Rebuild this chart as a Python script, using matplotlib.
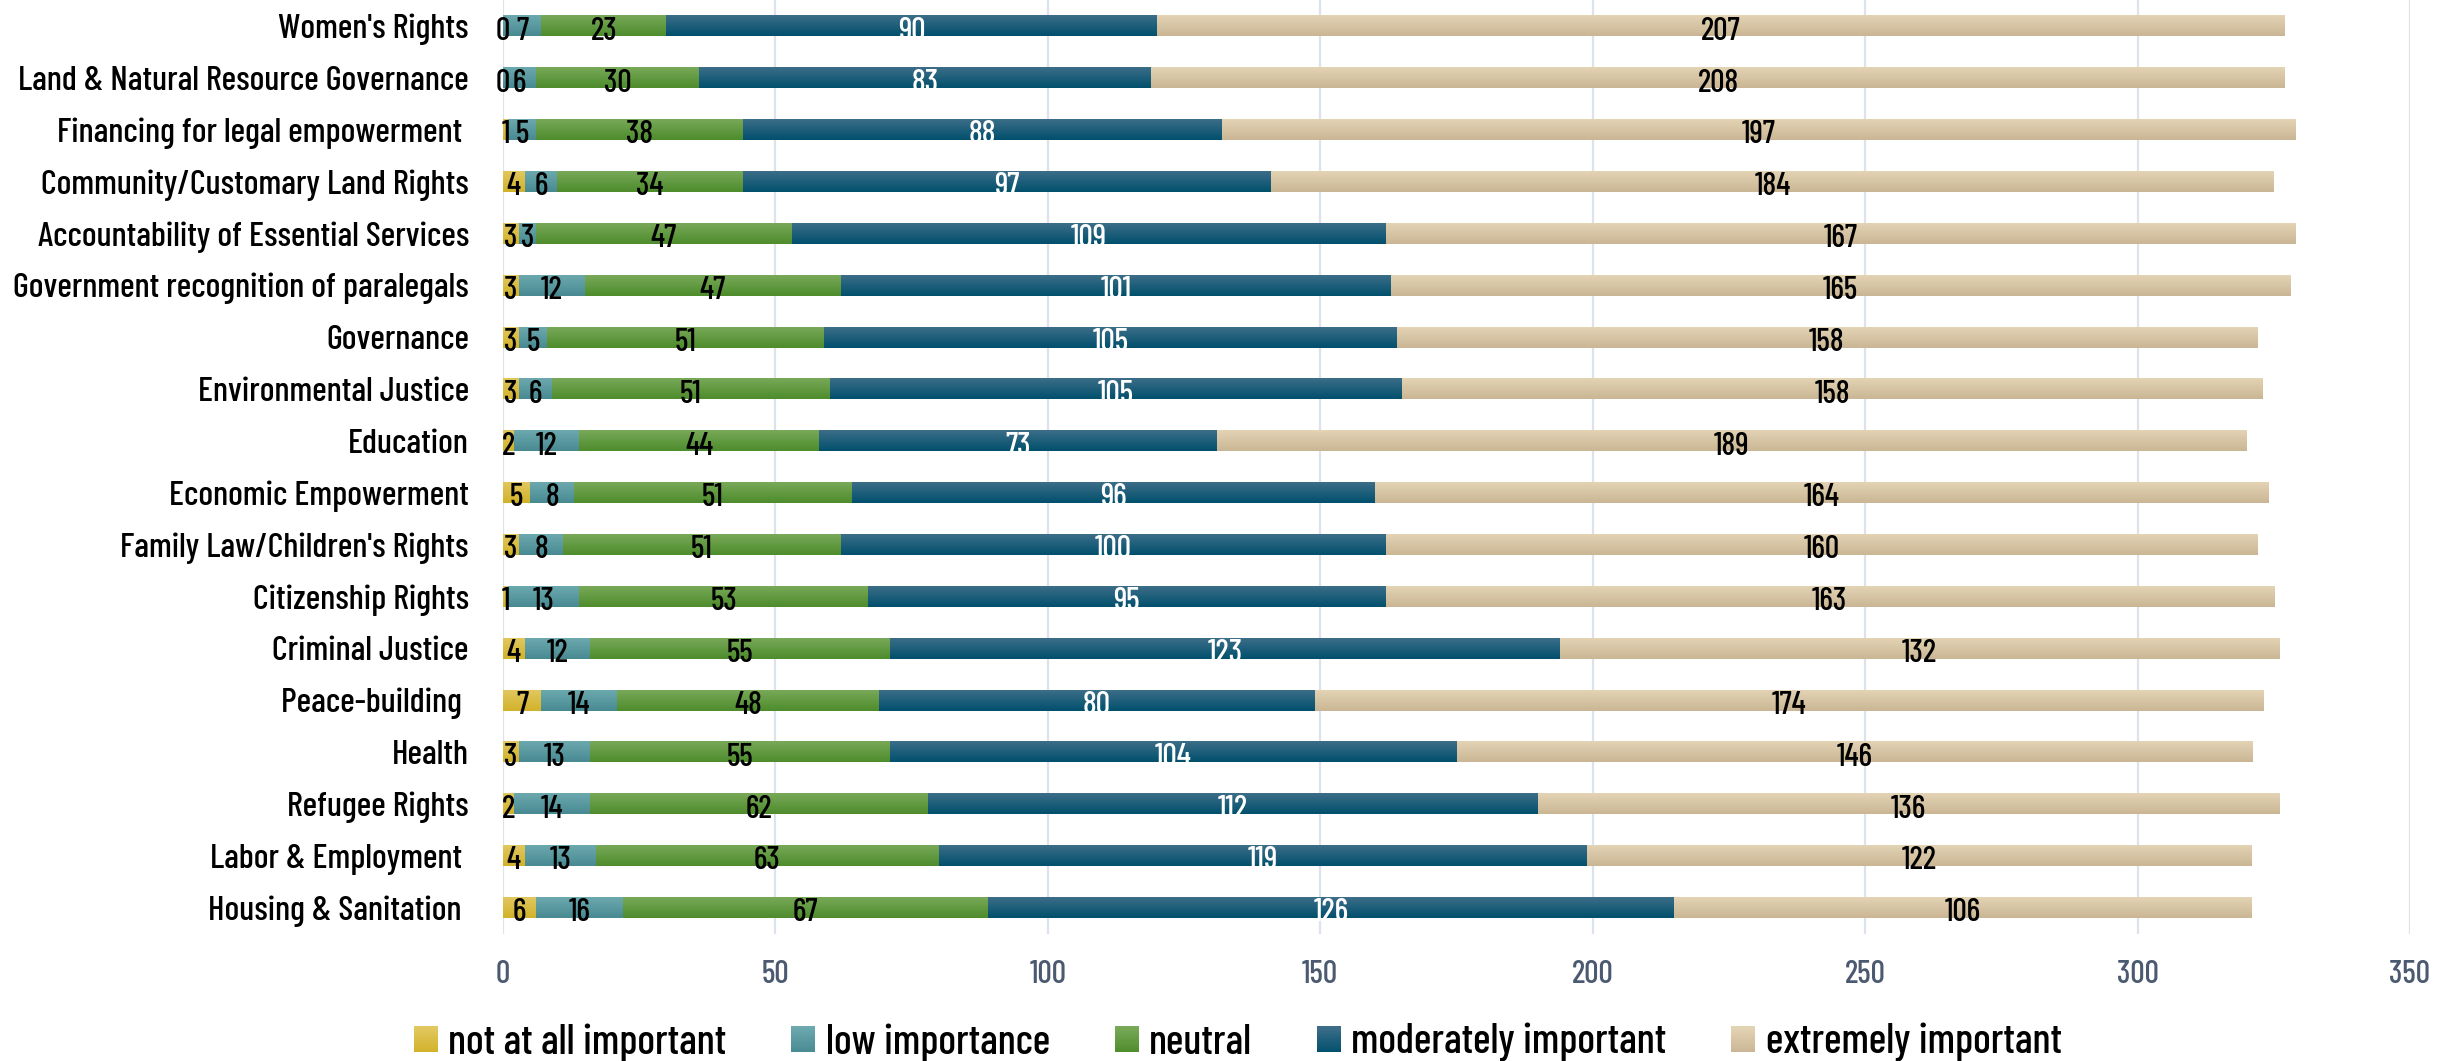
import matplotlib
matplotlib.use("Agg")
import matplotlib.pyplot as plt
import numpy as np
from matplotlib.patches import Patch, Rectangle
from matplotlib.colors import to_rgb
from matplotlib.legend_handler import HandlerBase

FONT = ["Barlow Condensed", "DejaVu Sans"]
plt.rcParams["font.family"] = FONT

categories = [
    "Women's Rights",
    "Land & Natural Resource Governance",
    "Financing for legal empowerment ",
    "Community/Customary Land Rights",
    "Accountability of Essential Services",
    "Government recognition of paralegals",
    "Governance",
    "Environmental Justice",
    "Education",
    "Economic Empowerment",
    "Family Law/Children's Rights",
    "Citizenship Rights",
    "Criminal Justice",
    "Peace-building ",
    "Health",
    "Refugee Rights",
    "Labor & Employment ",
    "Housing & Sanitation ",
]
not_at_all = [0, 0, 1, 4, 3, 3, 3, 3, 2, 5, 3, 1, 4, 7, 3, 2, 4, 6]
low = [7, 6, 5, 6, 3, 12, 5, 6, 12, 8, 8, 13, 12, 14, 13, 14, 13, 16]
neutral = [23, 30, 38, 34, 47, 47, 51, 51, 44, 51, 51, 53, 55, 48, 55, 62, 63, 67]
moderately = [90, 83, 88, 97, 109, 101, 105, 105, 73, 96, 100, 95, 123, 80, 104, 112, 119, 126]
extremely = [207, 208, 197, 184, 167, 165, 158, 158, 189, 164, 160, 163, 132, 174, 146, 136, 122, 106]

series_names = ["not at all important", "low importance", "neutral",
                "moderately important", "extremely important"]
series_values = [not_at_all, low, neutral, moderately, extremely]
# (top colour, bottom colour) of the vertical gradient
series_colors = [("#e2c862", "#d2b22a"),
                 ("#6eaab0", "#488a92"),
                 ("#7aaa5a", "#4e8c2c"),
                 ("#3f6f89", "#01506d"),
                 ("#e4d5b6", "#cab694")]
label_colors = ["black", "black", "black", "white", "black"]

xticks = [0, 50, 100, 150, 200, 250, 300, 350]

W, H = 2456, 1061
fig = plt.figure(figsize=(W / 100, H / 100), dpi=100)
ax = fig.add_axes([503 / W, 1 - 933.5 / H, (2410 - 503) / W, 933.5 / H])

n = len(categories)
ypos = np.arange(n)[::-1]
bar_h = 0.405
left = np.zeros(n)
for vals, (ctop, cbot), tcol in zip(series_values, series_colors, label_colors):
    vals = np.array(vals, dtype=float)
    bars = ax.barh(ypos, vals, left=left, height=bar_h, color=cbot,
                   linewidth=0, zorder=2)
    grad = np.linspace(to_rgb(cbot), to_rgb(ctop), 64).reshape(64, 1, 3)
    for b in bars:
        x0, y0 = b.get_x(), b.get_y()
        w, h = b.get_width(), b.get_height()
        if w <= 0:
            continue
        im = ax.imshow(grad, extent=(x0, x0 + w, y0, y0 + h), origin="lower",
                       aspect="auto", interpolation="bilinear", zorder=2.5)
        im.set_clip_path(b)
    for y, l, v in zip(ypos, left, vals):
        ax.text(l + v / 2, y - 0.265, f"{int(v)}", ha="center", va="baseline",
                fontsize=23, color=tcol, fontweight="medium", zorder=4,
                clip_on=False)
    left = left + vals

ax.set_xlim(0, 350)
ax.set_ylim(-0.5, n - 0.5)
ax.set_xticks(xticks)
ax.set_xticklabels([str(t) for t in xticks])
ax.set_yticks(ypos)
ax.set_yticklabels(categories)
ax.tick_params(axis="x", length=0, pad=19, labelsize=23, labelcolor="#4b5a70")
ax.tick_params(axis="y", length=0, pad=24.5, labelsize=25, labelcolor="black")
for lab in ax.get_xticklabels() + ax.get_yticklabels():
    lab.set_fontweight("medium")
ax.grid(axis="x", color="#dde3ec", linewidth=1.6, zorder=0)
ax.set_axisbelow(True)
for s in ax.spines.values():
    s.set_visible(False)


class GradientHandler(HandlerBase):
    def __init__(self, top, bottom, steps=24):
        super().__init__()
        self.top, self.bottom, self.steps = to_rgb(top), to_rgb(bottom), steps

    def create_artists(self, legend, orig_handle, xdescent, ydescent,
                       width, height, fontsize, trans):
        arts = []
        dh = height / self.steps
        for i in range(self.steps):
            f = (i + 0.5) / self.steps
            c = tuple(b + (t - b) * f for t, b in zip(self.top, self.bottom))
            r = Rectangle((-xdescent, -ydescent + i * dh), width, dh * 1.05,
                          facecolor=c, edgecolor="none", transform=trans)
            arts.append(r)
        return arts


handles = [Patch(facecolor=b, edgecolor="none") for a, b in series_colors]
hmap = {h: GradientHandler(a, b) for h, (a, b) in zip(handles, series_colors)}
leg = fig.legend(handles, series_names, loc="center", bbox_to_anchor=(0.504, 0.017),
                 ncol=5, frameon=False, fontsize=30, handlelength=0.58,
                 handleheight=0.58, handletextpad=0.25, columnspacing=1.55,
                 borderaxespad=0, borderpad=0, handler_map=hmap)
for t in leg.get_texts():
    t.set_fontweight("medium")

fig.savefig("out.png", dpi=100)
